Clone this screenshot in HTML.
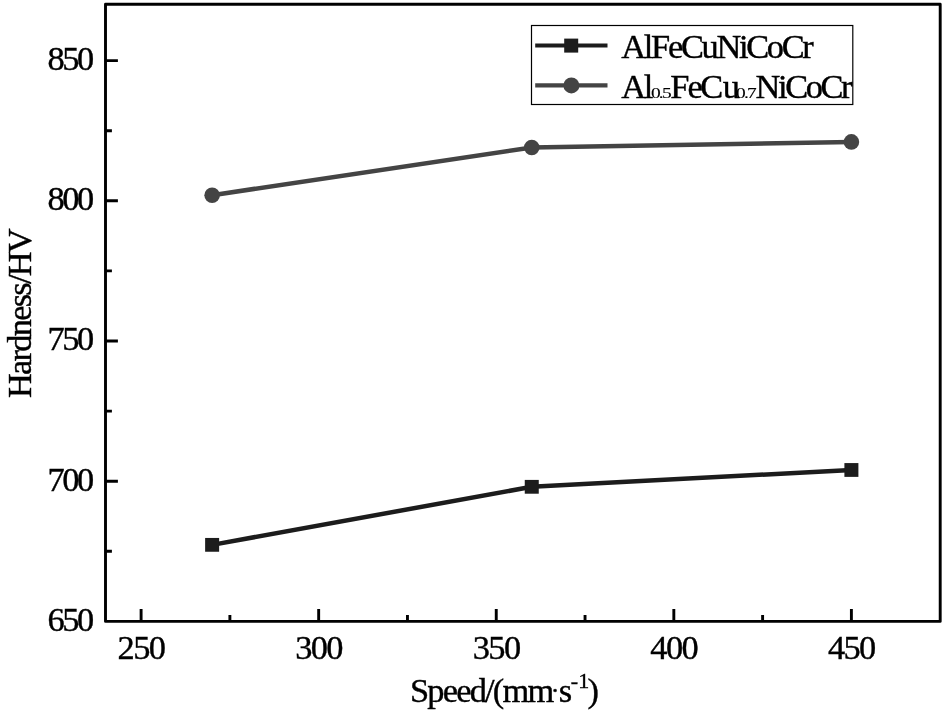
<!DOCTYPE html>
<html lang="en">
<head>
<meta charset="utf-8">
<title>Hardness vs Speed</title>
<style>
html,body{margin:0;padding:0;background:#fff;}
body{width:946px;height:713px;overflow:hidden;}
svg{display:block;will-change:transform;transform:translateZ(0);}
text{font-family:"Liberation Serif", "Times New Roman", serif;fill:#000;stroke:#000;stroke-width:0.4px;}
</style>
</head>
<body>
<svg width="946" height="713" viewBox="0 0 946 713">
<rect x="0" y="0" width="946" height="713" fill="#ffffff"/>
<path d="M105.5 621.4 L105.5 4.3 L940.2 4.3 L940.2 621.4 Z" fill="none" stroke="#000" stroke-width="2.9" stroke-linejoin="round"/>
<path d="M141.10 621.4 v-12.4 M318.67 621.4 v-12.4 M496.25 621.4 v-12.4 M673.83 621.4 v-12.4 M851.40 621.4 v-12.4 M229.89 621.4 v-6.4 M407.46 621.4 v-6.4 M585.04 621.4 v-6.4 M762.61 621.4 v-6.4 M105.5 481.20 h12.4 M105.5 341.00 h12.4 M105.5 200.80 h12.4 M105.5 60.60 h12.4 M105.5 551.30 h6.4 M105.5 411.10 h6.4 M105.5 270.90 h6.4 M105.5 130.70 h6.4" fill="none" stroke="#000" stroke-width="2.9"/>
<text x="141.00" y="659.1" font-size="34.4" text-anchor="middle" letter-spacing="-1.6">250</text>
<text x="318.57" y="659.1" font-size="34.4" text-anchor="middle" letter-spacing="-1.6">300</text>
<text x="496.15" y="659.1" font-size="34.4" text-anchor="middle" letter-spacing="-1.6">350</text>
<text x="673.73" y="659.1" font-size="34.4" text-anchor="middle" letter-spacing="-1.6">400</text>
<text x="851.30" y="659.1" font-size="34.4" text-anchor="middle" letter-spacing="-1.6">450</text>
<text x="91.90" y="630.80" font-size="34.4" text-anchor="end" letter-spacing="-2.4">650</text>
<text x="91.90" y="490.60" font-size="34.4" text-anchor="end" letter-spacing="-2.4">700</text>
<text x="91.90" y="350.40" font-size="34.4" text-anchor="end" letter-spacing="-2.4">750</text>
<text x="91.90" y="210.20" font-size="34.4" text-anchor="end" letter-spacing="-2.4">800</text>
<text x="91.90" y="70.00" font-size="34.4" text-anchor="end" letter-spacing="-2.4">850</text>
<text x="410" y="701.6" font-size="34.4" letter-spacing="-1.8">Speed/(mm<tspan font-size="26" dx="-1.6" dy="-2.5">·</tspan><tspan dx="1.2" dy="2.5">s</tspan><tspan font-size="22" dy="-13.8" dx="0.4">-</tspan><tspan font-size="22" dx="2.0">1</tspan><tspan dy="13.8">)</tspan></text>
<text transform="translate(31.3 398) rotate(-90)" font-size="34.4" letter-spacing="-1.75">Hardness/HV</text>
<polyline points="212.13,195.19 531.76,147.52 851.40,141.92" fill="none" stroke="#444444" stroke-width="4.5"/>
<circle cx="212.13" cy="195.19" r="7.8" fill="#444444"/>
<circle cx="531.76" cy="147.52" r="7.8" fill="#444444"/>
<circle cx="851.40" cy="141.92" r="7.8" fill="#444444"/>
<polyline points="212.13,544.85 531.76,486.81 851.40,469.98" fill="none" stroke="#1c1c1c" stroke-width="4.5"/>
<rect x="205.13" y="537.95" width="14" height="13.8" fill="#1c1c1c"/>
<rect x="524.76" y="479.91" width="14" height="13.8" fill="#1c1c1c"/>
<rect x="844.40" y="463.08" width="14" height="13.8" fill="#1c1c1c"/>
<rect x="531.5" y="25.5" width="321.3" height="79" fill="#fff" stroke="#000" stroke-width="1.2"/>
<line x1="535.2" y1="45.5" x2="607.5" y2="45.5" stroke="#1c1c1c" stroke-width="4.2"/>
<rect x="564.2" y="38.6" width="14" height="14" fill="#1c1c1c"/>
<line x1="535.2" y1="85.4" x2="607.5" y2="85.4" stroke="#444444" stroke-width="4.2"/>
<circle cx="571.4" cy="85.4" r="8" fill="#444444"/>
<text x="621.3" y="57.8" font-size="34.4" letter-spacing="-2.3">AlFeCuNiCoCr</text>
<text x="621.3" y="98.1" font-size="34.4" letter-spacing="-2.4">Al</text>
<text transform="translate(650.9 98.1) scale(1.28 1)" font-size="15.2" letter-spacing="-1.4" style="stroke-width:0.12px">0.5</text>
<text x="670.3" y="98.1" font-size="34.4" letter-spacing="-1.5" dx="0 -0.5 -0.9 1.1">FeCu</text>
<text transform="translate(736.0 98.1) scale(1.28 1)" font-size="15.2" letter-spacing="-1.4" style="stroke-width:0.12px">0.7</text>
<text x="755.6" y="98.1" font-size="34.4" letter-spacing="-2.4">NiCoCr</text>
</svg>
</body>
</html>
